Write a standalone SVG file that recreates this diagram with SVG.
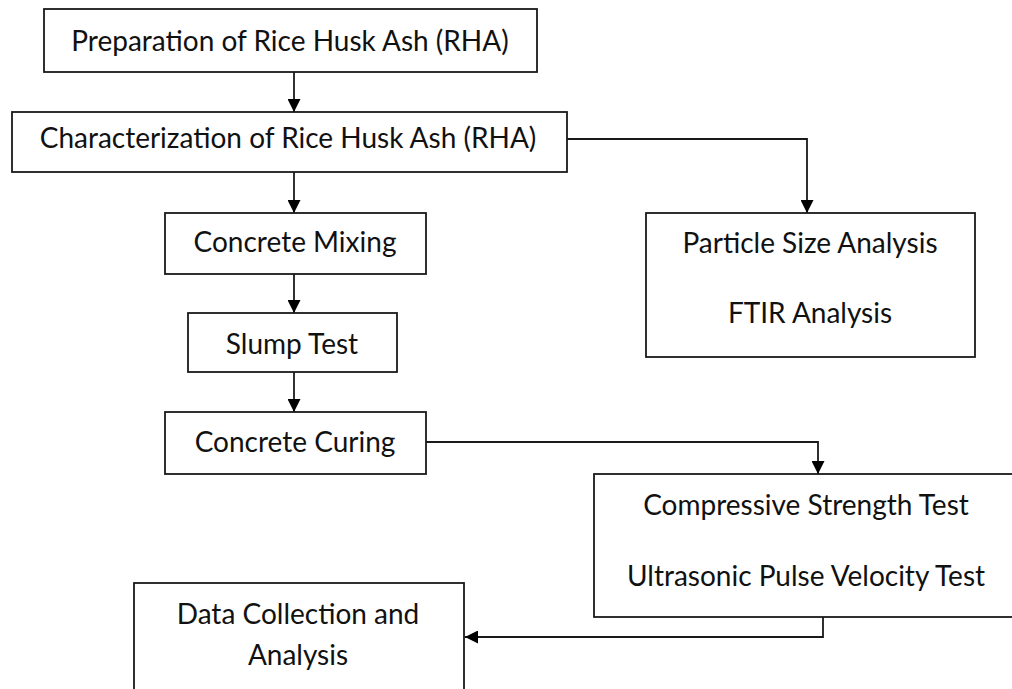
<svg xmlns="http://www.w3.org/2000/svg" width="1012" height="689" viewBox="0 0 1012 689">
<defs>
<style>
.box{fill:#fff;stroke:#1a1a1a;stroke-width:1.8}
.t{font-family:Lato,"Liberation Sans",sans-serif;font-size:28px;fill:#111;text-anchor:middle}
.c{fill:none;stroke:#1a1a1a;stroke-width:1.8}
</style>
<marker id="ah" viewBox="0 0 10 10" refX="10" refY="5" markerWidth="13" markerHeight="13" markerUnits="userSpaceOnUse" orient="auto">
<path d="M0,0 L10,5 L0,10 Z" fill="#000"/>
</marker>
</defs>
<rect width="1012" height="689" fill="#fff"/>
<g id="connectors">
<line class="c" x1="294" y1="72" x2="294" y2="112" marker-end="url(#ah)"/>
<line class="c" x1="294" y1="172" x2="294" y2="213" marker-end="url(#ah)"/>
<polyline class="c" points="567,139 807,139 807,213" marker-end="url(#ah)"/>
<line class="c" x1="294" y1="274" x2="294" y2="313" marker-end="url(#ah)"/>
<line class="c" x1="294" y1="372" x2="294" y2="412" marker-end="url(#ah)"/>
<polyline class="c" points="426,442 818,442 818,474" marker-end="url(#ah)"/>
<polyline class="c" points="823,617 823,637 465,637" marker-end="url(#ah)"/>
</g>
<g id="n1"><rect class="box" x="44" y="9" width="493" height="63"/><text class="t" x="290" y="51">Preparation of Rice Husk Ash (RHA)</text></g>
<g id="n2"><rect class="box" x="12" y="112" width="555" height="60"/><text class="t" x="288" y="148">Characterization of Rice Husk Ash (RHA)</text></g>
<g id="n3"><rect class="box" x="165" y="213" width="261" height="61"/><text class="t" x="295" y="252">Concrete Mixing</text></g>
<g id="n4"><rect class="box" x="188" y="313" width="209" height="59"/><text class="t" x="292" y="354">Slump Test</text></g>
<g id="n5"><rect class="box" x="165" y="412" width="261" height="62"/><text class="t" x="295" y="452">Concrete Curing</text></g>
<g id="n6"><rect class="box" x="646" y="213" width="329" height="144"/><text class="t" x="810" y="253">Particle Size Analysis</text><text class="t" x="810" y="323">FTIR Analysis</text></g>
<g id="n7"><rect class="box" x="594" y="474" width="425" height="143"/><text class="t" x="806" y="515">Compressive Strength Test</text><text class="t" x="806" y="586">Ultrasonic Pulse Velocity Test</text></g>
<g id="n8"><rect class="box" x="134" y="583" width="330" height="120"/><text class="t" x="298" y="624">Data Collection and</text><text class="t" x="298" y="665">Analysis</text></g>
</svg>
